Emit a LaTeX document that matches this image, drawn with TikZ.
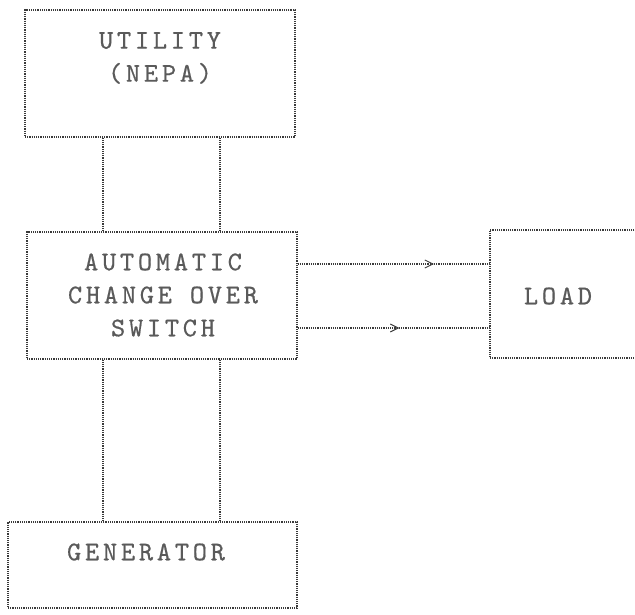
\documentclass[tikz,border=0pt]{standalone}
\usepackage{fontspec}
\newfontfamily\tw[LetterSpace=14,FakeBold=0.6]{lmmono10-regular.otf}
\usetikzlibrary{decorations.markings,arrows.meta}
\definecolor{ink}{HTML}{3A3A3A}
\definecolor{txt}{HTML}{5A5A5A}
\tikzset{
  box/.style={draw=ink, densely dotted, line width=1.2pt, rectangle, inner sep=0pt},
  lbl/.style={text=txt, font=\tw\fontsize{27}{33}\selectfont, align=center, inner sep=0pt},
  wire/.style={draw=ink, densely dotted, line width=1.2pt},
  chev/.style={decoration={markings, mark=at position #1 with {\arrow[solid,ink,line width=0.9pt]{Straight Barb[length=8pt,width=8pt]}}}, postaction={decorate}}
}
\begin{document}
\begin{tikzpicture}[x=1pt,y=-1pt]
\useasboundingbox (0,0) rectangle (635,615);
\clip (0,0) rectangle (635,615);
\node[box, minimum width=270pt, minimum height=127pt] (util) at (160,73.5) {};
\node[box, minimum width=270pt, minimum height=127pt] (acos) at (162,295.5) {};
\node[box, minimum width=160pt, minimum height=128pt] (load) at (570,294) {};
\node[box, minimum width=289pt, minimum height=86pt] (gen) at (152.5,565) {};
\node[lbl] (tu) at (160,58) {UTILITY\\(NEPA)};
\node[lbl] (ta) at (163,295) {AUTOMATIC\\CHANGE OVER\\SWITCH};
\node[lbl] (tl) at (558,296) {LOAD};
\node[lbl] (tg) at (146,552) {GENERATOR};
\coordinate (c1) at (103,0);
\coordinate (c2) at (220,0);
\coordinate (r1) at (0,264);
\coordinate (r2) at (0,328);
\draw[wire] (util.south -| c1) -- (acos.north -| c1);
\draw[wire] (util.south -| c2) -- (acos.north -| c2);
\draw[wire] (acos.south -| c1) -- (gen.north -| c1);
\draw[wire] (acos.south -| c2) -- (gen.north -| c2);
\draw[wire, chev=0.71] (acos.east |- r1) -- (load.west |- r1);
\draw[wire, chev=0.53] (acos.east |- r2) -- (load.west |- r2);
\end{tikzpicture}
\end{document}
